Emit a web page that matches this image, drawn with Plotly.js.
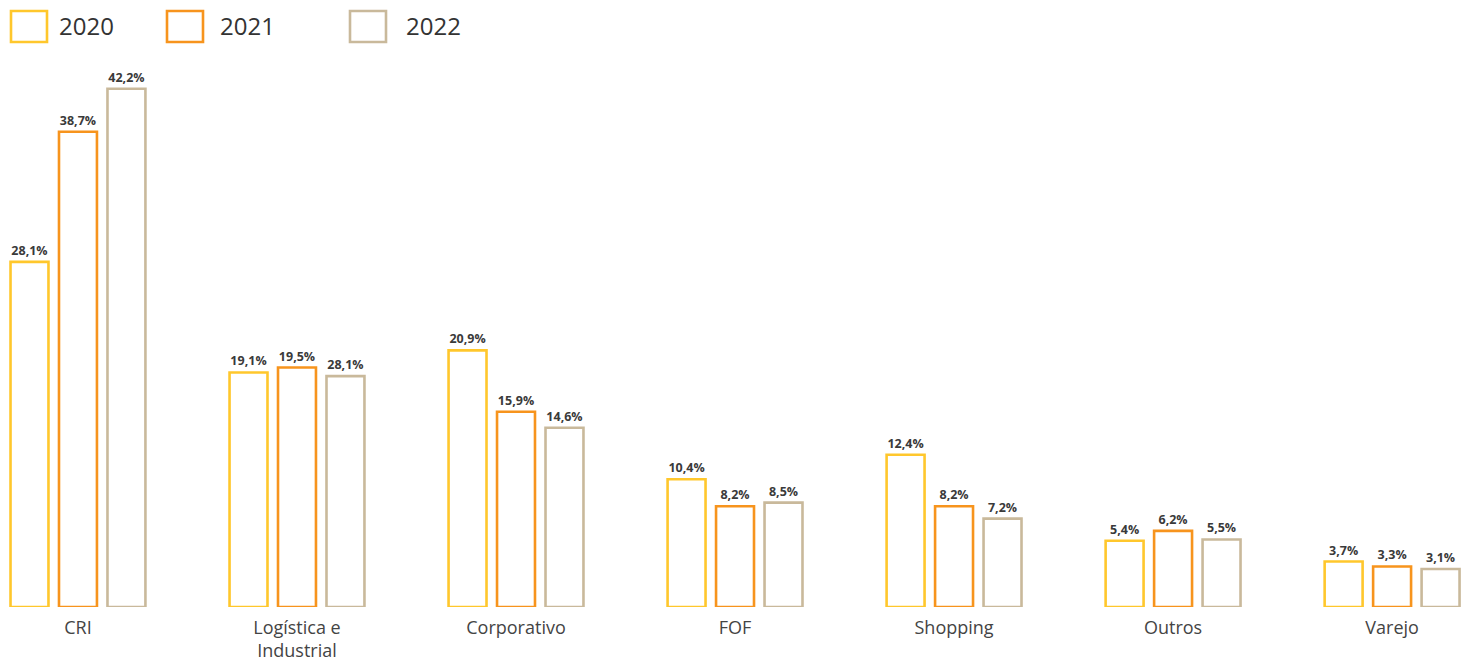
<!DOCTYPE html>
<html>
<head>
<meta charset="utf-8">
<script src="https://cdn.plot.ly/plotly-3.0.1.min.js"></script>
<style>
  html, body { margin: 0; padding: 0; background: #ffffff; }
  #chart { width: 1467px; height: 662px; }
</style>
</head>
<body>
<div id="chart"></div>
<script>
// ---- data ----
const categories = ["CRI", "Logística e<br>Industrial", "Corporativo", "FOF", "Shopping", "Outros", "Varejo"];
const seriesNames = ["2020", "2021", "2022"];
const values2020 = [28.1, 19.1, 20.9, 10.4, 12.4, 5.4, 3.7];
const values2021 = [38.7, 19.5, 15.9, 8.2, 8.2, 6.2, 3.3];
const values2022 = [42.2, 18.8, 14.6, 8.5, 7.2, 5.5, 3.1];
// labels as printed in the original (note: Logística 2022 is printed as 28,1%)
const labels2020 = ["28,1%", "19,1%", "20,9%", "10,4%", "12,4%", "5,4%", "3,7%"];
const labels2021 = ["38,7%", "19,5%", "15,9%", "8,2%", "8,2%", "6,2%", "3,3%"];
const labels2022 = ["42,2%", "28,1%", "14,6%", "8,5%", "7,2%", "5,5%", "3,1%"];

// ---- styles ----
const colors = ["#FFC72C", "#F7941D", "#C9B99B"];
const W = 1467, H = 662;
const mT = 60, mB = 55;
const plotH = H - mT - mB;
const FONT = "'Open Sans', 'Noto Sans', sans-serif";

const allValues = [values2020, values2021, values2022];
const allLabels = [labels2020, labels2021, labels2022];

const traces = seriesNames.map((name, i) => ({
  type: "bar",
  name: name,
  x: categories,
  y: allValues[i],
  text: allLabels[i],
  textposition: "outside",
  texttemplate: "%{text}",
  cliponaxis: false,
  textfont: { family: FONT, size: 12.5, color: "#3a3a3a", weight: 700 },
  marker: { color: "rgba(255,255,255,1)", line: { color: colors[i], width: 2.6 } },
  hoverinfo: "skip",
  showlegend: false
}));

// custom legend (large outlined boxes)
const legendBoxesPx = [10, 166, 349];
const legendTextPx = [57, 218, 404];
const px2x = px => px / W;
const py2y = py => (H - mB - py) / plotH;
const shapes = seriesNames.map((n, i) => ({
  type: "rect", xref: "paper", yref: "paper",
  x0: px2x(legendBoxesPx[i] + 1), x1: px2x(legendBoxesPx[i] + 37),
  y0: py2y(42), y1: py2y(11),
  line: { color: colors[i], width: 2.6 }, fillcolor: "rgba(0,0,0,0)"
}));
const annotations = seriesNames.map((n, i) => ({
  xref: "paper", yref: "paper",
  x: px2x(legendTextPx[i]), y: py2y(25),
  xanchor: "left", yanchor: "middle",
  text: n, showarrow: false,
  font: { family: FONT, size: 24, color: "#333333" }
}));

const layout = {
  width: W, height: H,
  margin: { l: 0, r: 0, t: mT, b: mB, pad: 0 },
  paper_bgcolor: "#ffffff", plot_bgcolor: "#ffffff",
  barmode: "group",
  bargap: 0.336,
  bargroupgap: 0.217,
  showlegend: false,
  xaxis: {
    type: "category",
    range: [-0.356, 6.342],
    showgrid: false, zeroline: false, showline: false,
    ticks: "", ticklen: 0,
    ticklabelstandoff: 8,
    tickfont: { family: FONT, size: 18, color: "#444444" },
    automargin: false
  },
  yaxis: {
    range: [0, 44.54],
    showgrid: false, zeroline: false, showline: false,
    showticklabels: false, ticks: ""
  },
  shapes: shapes,
  annotations: annotations
};

Plotly.newPlot("chart", traces, layout, { displayModeBar: false, staticPlot: true });
</script>
</body>
</html>
